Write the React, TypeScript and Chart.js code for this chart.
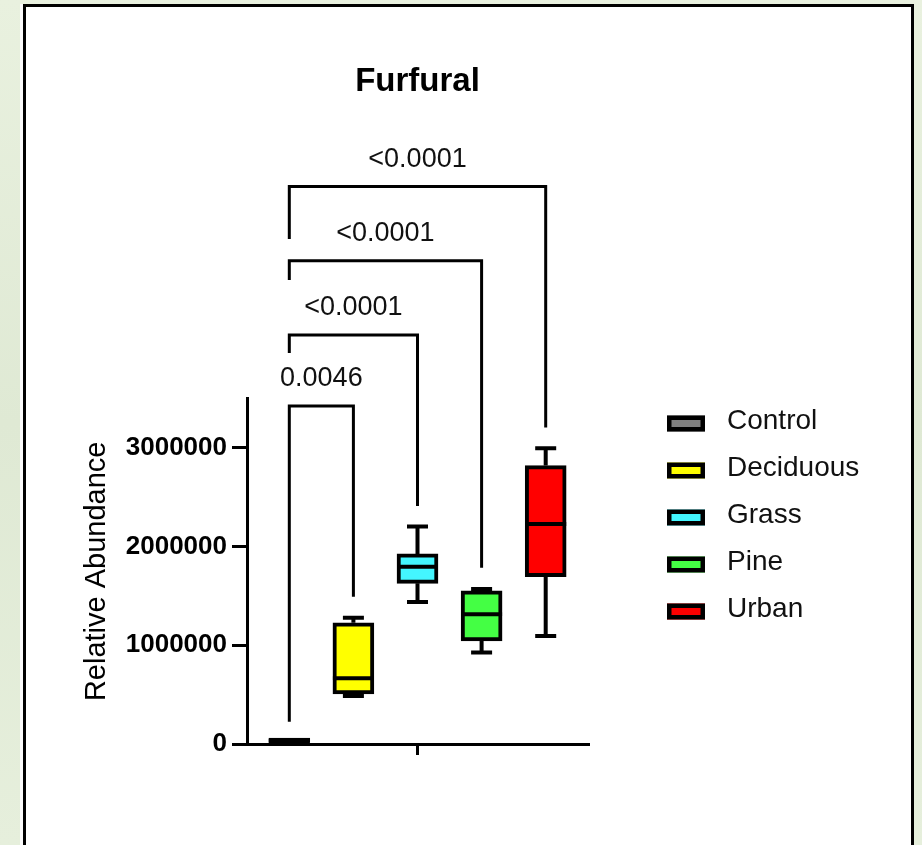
import React, { useEffect, useRef } from 'react';
import { Chart, registerables } from 'chart.js';

Chart.register(...registerables);

// ---------- data ----------
const groups = ['Control', 'Deciduous', 'Grass', 'Pine', 'Urban'];
const groupX = [0, 1, 2, 3, 4];
const whiskerMin = [0, 486000, 1439000, 926000, 1095000];
const q1 = [0, 507000, 1628000, 1044000, 1696000];
const median = [30000, 666000, 1797000, 1314000, 2230000];
const q3 = [60000, 1229000, 1926000, 1551000, 2821000];
const whiskerMax = [60000, 1280000, 2203000, 1571000, 2997000];
const fillColors = ['#7f7f7f', '#ffff00', '#44f6ff', '#44ff44', '#ff0000'];

const yTicks = [0, 1000000, 2000000, 3000000];
const xTicks = [2];

// significance brackets (Control vs each group)
const bracketFrom = [0, 0, 0, 0];
const bracketTo = [1, 2, 3, 4];
const bracketLevel = [3426000, 4145000, 4898000, 5648000];
const bracketFromEnd = [226000, 3963000, 4703000, 5118000];
const bracketToEnd = [1493000, 2412000, 1787000, 3206000];
const pValues = ['0.0046', '<0.0001', '<0.0001', '<0.0001'];

// ---------- styles ----------
const FONT = '"Liberation Sans", Arial, Helvetica, sans-serif';
const BOX_W = 41;
const CAP_W = 21;
const LEGEND_BOX_LEFT = 667;
const LEGEND_TEXT_LEFT = 727;
const LEGEND_TOP = 421.5;
const LEGEND_STEP = 47;

const boxPlotPlugin = {
  id: 'boxWhiskers',
  beforeDatasetsDraw(chart: any) {
    const { ctx, scales } = chart;
    const x = scales.x;
    const y = scales.y;
    ctx.save();
    ctx.strokeStyle = '#000';
    ctx.lineWidth = 4;
    ctx.lineCap = 'butt';
    groupX.forEach((gx, i) => {
      if (whiskerMax[i] === q3[i] && whiskerMin[i] === q1[i]) return;
      const px = x.getPixelForValue(gx);
      const pMin = y.getPixelForValue(whiskerMin[i]);
      const pMax = y.getPixelForValue(whiskerMax[i]);
      const pQ1 = y.getPixelForValue(q1[i]);
      const pQ3 = y.getPixelForValue(q3[i]);
      ctx.beginPath();
      ctx.moveTo(px, pQ3);
      ctx.lineTo(px, pMax);
      ctx.moveTo(px, pQ1);
      ctx.lineTo(px, pMin);
      ctx.moveTo(px - CAP_W / 2, pMax);
      ctx.lineTo(px + CAP_W / 2, pMax);
      ctx.moveTo(px - CAP_W / 2, pMin);
      ctx.lineTo(px + CAP_W / 2, pMin);
      ctx.stroke();
    });
    ctx.restore();
  },
  afterDatasetsDraw(chart: any) {
    const { ctx, scales } = chart;
    const x = scales.x;
    const y = scales.y;
    ctx.save();
    ctx.strokeStyle = '#000';
    ctx.lineWidth = 4;
    groupX.forEach((gx, i) => {
      const px = x.getPixelForValue(gx);
      const pm = y.getPixelForValue(median[i]);
      ctx.beginPath();
      ctx.moveTo(px - BOX_W / 2, pm);
      ctx.lineTo(px + BOX_W / 2, pm);
      ctx.stroke();
    });
    ctx.restore();
  },
};

const bracketPlugin = {
  id: 'sigBrackets',
  afterDraw(chart: any) {
    const { ctx, scales } = chart;
    const x = scales.x;
    const y = scales.y;
    ctx.save();
    ctx.strokeStyle = '#000';
    ctx.lineWidth = 3;
    ctx.lineJoin = 'miter';
    ctx.fillStyle = '#111';
    ctx.font = `27px ${FONT}`;
    ctx.textAlign = 'center';
    ctx.textBaseline = 'middle';
    pValues.forEach((label, i) => {
      const x1 = x.getPixelForValue(groupX[bracketFrom[i]]);
      const x2 = x.getPixelForValue(groupX[bracketTo[i]]);
      const yl = y.getPixelForValue(bracketLevel[i]);
      const y1 = y.getPixelForValue(bracketFromEnd[i]);
      const y2 = y.getPixelForValue(bracketToEnd[i]);
      ctx.beginPath();
      ctx.moveTo(x1, y1);
      ctx.lineTo(x1, yl);
      ctx.lineTo(x2, yl);
      ctx.lineTo(x2, y2);
      ctx.stroke();
      ctx.fillText(label, (x1 + x2) / 2, yl - 27);
    });
    ctx.restore();
  },
};

const legendPlugin = {
  id: 'boxLegend',
  afterDraw(chart: any) {
    const { ctx } = chart;
    ctx.save();
    chart.data.datasets.forEach((ds: any, i: number) => {
      const cy = LEGEND_TOP + i * LEGEND_STEP;
      const by = cy + 2;
      ctx.fillStyle = ds.backgroundColor;
      ctx.fillRect(LEGEND_BOX_LEFT, by - 8, 38, 16);
      ctx.strokeStyle = '#000';
      ctx.lineWidth = 4.5;
      ctx.strokeRect(LEGEND_BOX_LEFT + 2.25, by - 5.75, 33.5, 11.5);
      ctx.fillStyle = '#111';
      ctx.font = `28px ${FONT}`;
      ctx.textAlign = 'left';
      ctx.textBaseline = 'middle';
      ctx.fillText(ds.label, LEGEND_TEXT_LEFT, cy);
    });
    ctx.restore();
  },
};

function BoxChart() {
  const ref = useRef<HTMLCanvasElement | null>(null);

  useEffect(() => {
    if (!ref.current) return;
    const datasets = groups.map((g, i) => ({
      label: g,
      data: [{ x: groupX[i], y: [q1[i], q3[i]] }],
      backgroundColor: fillColors[i],
      borderColor: '#000',
      borderWidth: 4,
      borderSkipped: false,
      barThickness: BOX_W,
      grouped: false,
    }));

    const chart = new Chart(ref.current, {
      type: 'bar',
      data: { datasets } as any,
      plugins: [boxPlotPlugin, bracketPlugin, legendPlugin],
      options: {
        responsive: false,
        devicePixelRatio: 1,
        animation: false,
        events: [],
        layout: { padding: { top: 0, left: 0, right: 334, bottom: 0 } },
        plugins: {
          legend: { display: false },
          tooltip: { enabled: false },
          title: {
            display: true,
            text: 'Furfural',
            fullSize: false,
            color: '#000',
            font: { family: FONT, size: 33, weight: 'bold' },
            padding: { top: 62, bottom: 297 },
          },
        },
        scales: {
          x: {
            type: 'linear',
            min: -0.66,
            max: 4.66,
            offset: false,
            afterBuildTicks: (axis: any) => {
              axis.ticks = xTicks.map((v) => ({ value: v }));
            },
            afterFit: (axis: any) => {
              axis.height = 101;
            },
            ticks: { display: false },
            grid: {
              display: true,
              offset: false,
              drawOnChartArea: false,
              drawTicks: true,
              tickLength: 11,
              lineWidth: 3,
              color: '#000',
            },
            border: { display: true, color: '#000', width: 3 },
          },
          y: {
            type: 'linear',
            min: 0,
            max: 3500000,
            afterBuildTicks: (axis: any) => {
              axis.ticks = yTicks.map((v) => ({ value: v }));
            },
            afterFit: (axis: any) => {
              axis.width = 247;
            },
            ticks: {
              color: '#000',
              padding: 5,
              font: { family: FONT, size: 26, weight: 'bold' },
              callback: (v: any) => String(v),
            },
            grid: {
              display: true,
              offset: false,
              drawOnChartArea: false,
              drawTicks: true,
              tickLength: 15,
              lineWidth: 3,
              color: '#000',
            },
            border: { display: true, color: '#000', width: 3 },
            title: {
              display: true,
              text: 'Relative Abundance',
              color: '#000',
              font: { family: FONT, size: 29, weight: 'normal' },
              padding: { top: 80, bottom: 0 },
            },
          },
        },
      } as any,
    });
    return () => chart.destroy();
  }, []);

  return (
    <canvas
      ref={ref}
      width={922}
      height={845}
      style={{ position: 'absolute', left: 0, top: 0, width: 922, height: 845 }}
    />
  );
}

export default function App() {
  return (
    <div
      style={{
        position: 'fixed',
        left: 0,
        top: 0,
        width: 922,
        height: 845,
        overflow: 'hidden',
        background: 'linear-gradient(180deg, #e9f1df 0%, #dfe9d4 50%, #e6efdc 100%)',
      }}
    >
      <div
        style={{
          position: 'absolute',
          left: 23,
          top: 4,
          width: 891,
          height: 900,
          background: '#fff',
          boxSizing: 'border-box',
          borderLeft: '3px solid #000',
          borderTop: '3px solid #000',
          borderRight: '3px solid #000',
          boxShadow: '-3px 0 0 #fafafa',
        }}
      />
      <BoxChart />
    </div>
  );
}
